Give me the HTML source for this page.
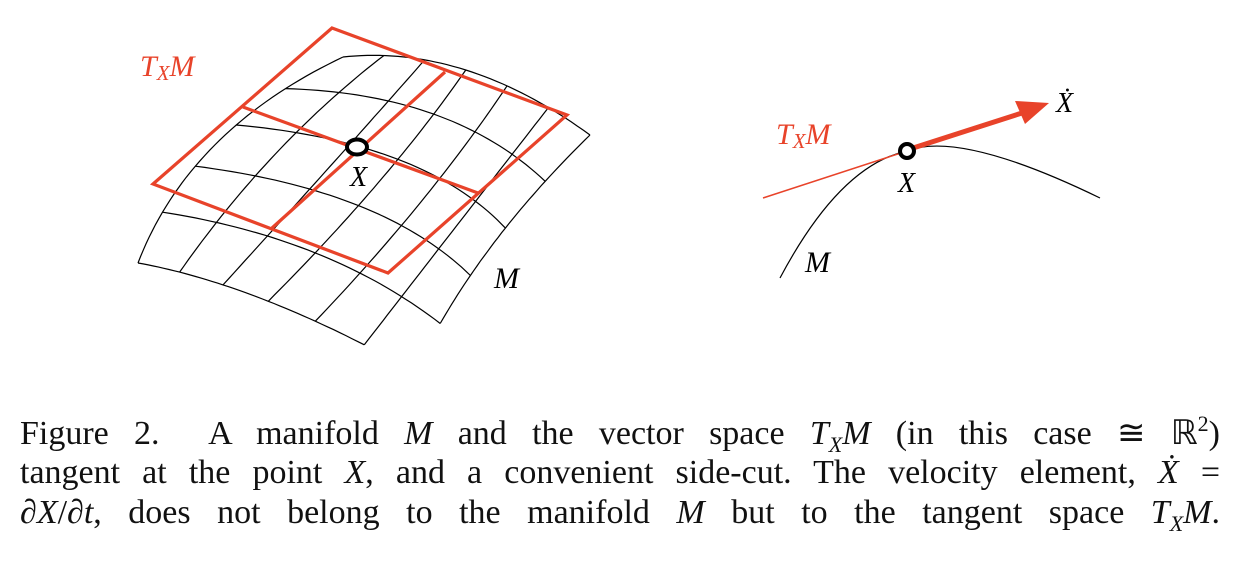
<!DOCTYPE html>
<html><head><meta charset="utf-8">
<style>
html,body{margin:0;padding:0;background:#fff;}
body{width:1250px;height:562px;position:relative;overflow:hidden;font-family:"Liberation Serif",serif;}
.cap{position:absolute;left:20px;width:1200px;font-size:34px;color:#111;white-space:nowrap;text-align:justify;text-align-last:justify;line-height:40px;height:40px;}
.m{font-style:italic;}
.sb{font-size:22px;position:relative;top:8px;font-style:italic;}
.sp{font-size:22px;position:relative;top:-13px;}
svg text{font-family:"Liberation Serif",serif;font-style:italic;}
</style></head>
<body>
<svg id="fig" width="1250" height="400" style="position:absolute;left:0;top:0">
  <g id="grid" fill="none" stroke="#000" stroke-width="1.2"></g>
  <g fill="none" stroke="#e8432a" stroke-width="3.2" stroke-linejoin="miter">
    <polygon points="332,28 567,115 388,273 153,184"/>
    <line x1="243" y1="107" x2="478" y2="193"/>
    <line x1="445" y1="72" x2="272" y2="228"/>
  </g>
  <ellipse cx="357" cy="147" rx="10" ry="7.5" fill="#fff" stroke="#000" stroke-width="4"/>
  <text x="140" y="76" font-size="30" fill="#e8432a">T<tspan font-size="21" dy="4">X</tspan><tspan dy="-4">M</tspan></text>
  <text x="350" y="186" font-size="28" fill="#000">X</text>
  <text x="494" y="288" font-size="30" fill="#000">M</text>

  <path d="M780,278 Q840,165 907,151 Q960,130 1100,198" fill="none" stroke="#000" stroke-width="1.2"/>
  <line x1="763" y1="198" x2="907" y2="151" stroke="#e8432a" stroke-width="1.5"/>
  <line x1="910" y1="149" x2="1022" y2="113" stroke="#e8432a" stroke-width="5"/>
  <polygon points="1049,103 1015,101 1025,124" fill="#e8432a"/>
  <circle cx="907" cy="151" r="7" fill="#fff" stroke="#000" stroke-width="4"/>
  <text x="776" y="144" font-size="30" fill="#e8432a">T<tspan font-size="21" dy="4">X</tspan><tspan dy="-4">M</tspan></text>
  <text x="898" y="192" font-size="28" fill="#000">X</text>
  <text x="1056" y="112" font-size="28" fill="#000">Ẋ</text>
  <text x="805" y="272" font-size="30" fill="#000">M</text>
</svg>

<div class="cap" style="top:414px">Figure 2.&nbsp; A manifold <span class="m">M</span> and the vector space <span class="m">T<span class="sb">X</span>M</span> (in this case ≅ ℝ<span class="sp">2</span>)</div>
<div class="cap" style="top:453px">tangent at the point <span class="m">X</span>, and a convenient side-cut. The velocity element, <span class="m">Ẋ</span> =</div>
<div class="cap" style="top:493px">∂<span class="m">X</span>/∂<span class="m">t</span>, does not belong to the manifold <span class="m">M</span> but to the tangent space <span class="m">T<span class="sb">X</span>M</span>.</div>

<script>
// biquadratic patch control points [v][u]
const C=[
 [[138,263],[260,285],[415,372]],
 [[189,130],[450,168],[472,250]],
 [[343,57],[465,44],[590,135]]
];
function b(t){return [(1-t)*(1-t),2*t*(1-t),t*t];}
function P(u,v){const bu=b(u),bv=b(v);let x=0,y=0;
 for(let i=0;i<3;i++)for(let j=0;j<3;j++){x+=bv[i]*bu[j]*C[i][j][0];y+=bv[i]*bu[j]*C[i][j][1];}
 return [x,y];}
const g=document.getElementById('grid');
const NU=6,NV=5;
function line(fn,a,c,name){let d='';for(let k=0;k<=40;k++){const t=a+(c-a)*k/40;const p=fn(t);d+=(k?'L':'M')+p[0].toFixed(1)+','+p[1].toFixed(1);}
 const el=document.createElementNS('http://www.w3.org/2000/svg','path');el.setAttribute('d',d);
 
 
 g.appendChild(el);}
for(let i=0;i<=NV;i++)line(t=>P(t,i/NV),0,i===0?(NU-1)/NU:1,'grid-row-line');
for(let j=0;j<=NU;j++)line(t=>P(j/NU,t),j===NU?1/NV:0,1,'grid-column-line');
</script>
</body></html>
